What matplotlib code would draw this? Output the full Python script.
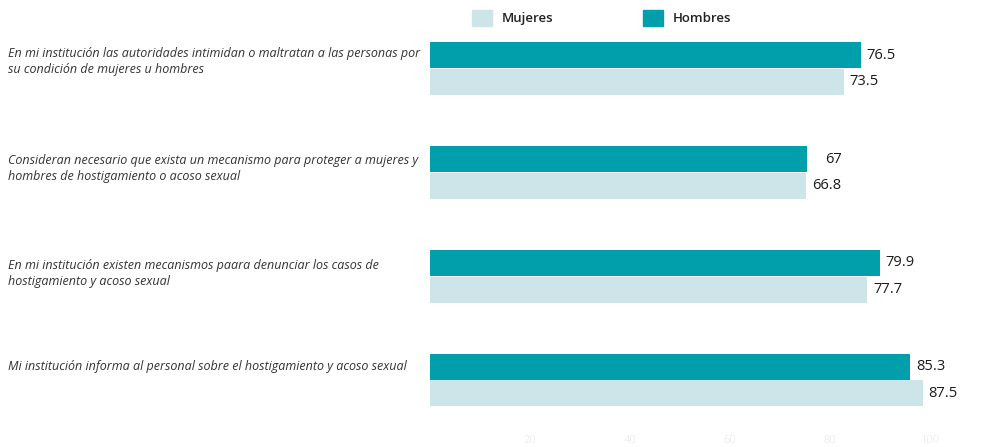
import matplotlib
matplotlib.use("Agg")
import matplotlib.pyplot as plt
from matplotlib.patches import Patch
from matplotlib.transforms import offset_copy, blended_transform_factory

# data
categories = [
    "En mi institución las autoridades intimidan o maltratan a las personas por\nsu condición de mujeres u hombres",
    "Consideran necesario que exista un mecanismo para proteger a mujeres y\nhombres de hostigamiento o acoso sexual",
    "En mi institución existen mecanismos paara denunciar los casos de\nhostigamiento y acoso sexual",
    "Mi institución informa al personal sobre el hostigamiento y acoso sexual",
]
hombres = [76.5, 67, 79.9, 85.3]
mujeres = [73.5, 66.8, 77.7, 87.5]
tick_vals = [20, 40, 60, 80, 100]

c_hombres = "#009FAB"
c_mujeres = "#CDE4E9"
plt.rcParams["font.family"] = ["Open Sans", "DejaVu Sans"]

W, H = 1005, 447
fig = plt.figure(figsize=(W / 100, H / 100), dpi=100)
# axes from x=430 to 1000 px, y=30 to 425 px
ax = fig.add_axes([430 / W, 1 - 425 / H, 570 / W, 395 / H])

bh = 0.25
ypos = list(range(len(categories)))
ax.barh([y - 0.127 for y in ypos], hombres, height=bh, color=c_hombres, label="Hombres")
ax.barh([y + 0.13 for y in ypos], mujeres, height=bh, color=c_mujeres, label="Mujeres")

ax.set_xlim(0, 570 / 5.63)
ax.set_ylim(3.435, -0.371)

for y, h, m in zip(ypos, hombres, mujeres):
    for v, yy in ((h, y - 0.127), (m, y + 0.13)):
        tr = offset_copy(ax.transData, fig=fig, x=35, y=0, units="dots")
        ax.text(v, yy, f"{v:g}", transform=tr, ha="right", va="center",
                fontsize=10.5, color="#1a1a1a", fontweight="medium")

# category labels on the left
label_tr = blended_transform_factory(fig.transFigure, ax.transData)
label_off = [-0.07, -0.035, -0.02, -0.13]
for y, txt, off in zip(ypos, categories, label_off):
    ax.text(8 / W, y + off, txt, transform=label_tr,
            ha="left", va="center", fontsize=9.0, style="italic", color="#333333",
            linespacing=1.3)

for s in ax.spines.values():
    s.set_visible(False)
ax.set_yticks([])
ax.set_xticks([])

# faint axis underneath
sec = ax.secondary_xaxis("bottom", functions=(lambda x: x * 5.63 / 5, lambda x: x * 5 / 5.63))
sec.set_xticks(tick_vals)
sec.tick_params(length=0, colors="#eeeeee", labelsize=8, pad=7)
sec.spines["bottom"].set_visible(False)

handles = [Patch(color=c_mujeres, label="Mujeres"), Patch(color=c_hombres, label="Hombres")]
fig.legend(handles=handles, loc="center", bbox_to_anchor=(602 / W, 1 - 18 / H), ncol=2,
           frameon=False, handlelength=1.45, handleheight=1.45, handletextpad=0.8,
           columnspacing=6.8, prop={"size": 9.5, "weight": "semibold"},
           labelcolor="#222222")

fig.savefig("out.png", dpi=100)
